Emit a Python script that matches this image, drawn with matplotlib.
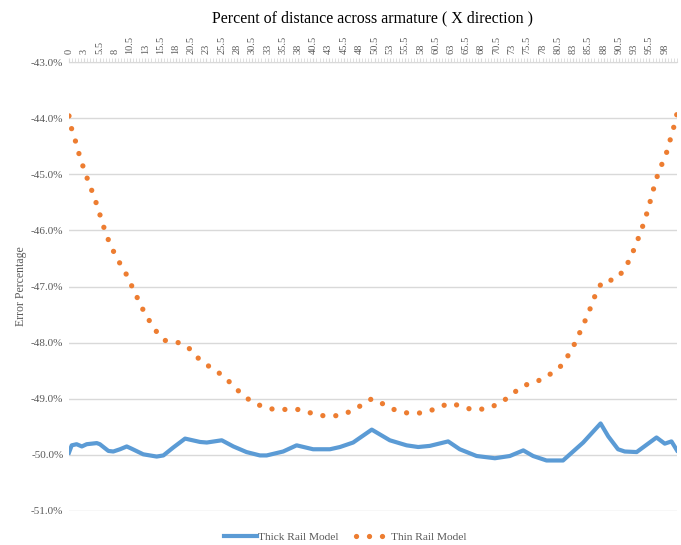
import numpy as np
import matplotlib.pyplot as plt
from matplotlib.ticker import FuncFormatter

# category labels: percent of distance across armature
categories = ['0'] + ['%g' % (0.5 + 0.5 * k) for k in range(1, 200)]

# thick rail model (category index, error %)
thick_x = [0, 0.9, 2.5, 4.2, 5.8, 9.1, 10.1, 12.9, 14.5, 16.7, 18.9, 20.5, 24.3, 28.7,
           30.9, 34.1, 38.0, 42.9, 45.1, 50.0, 53.8, 58.1, 62.5, 64.7, 70.1, 74.5, 79.9,
           85.4, 88.7, 93.0, 99.1, 105.0, 110.5, 114.3, 118.1, 124.1, 127.9, 133.4, 139.4,
           144.3, 148.7, 151.9, 156.3, 161.7, 168.3, 174.0, 176.5, 179.7, 181.9, 185.8,
           192.3, 195.0, 197.2, 199]
thick_y = [-49.96, -49.83, -49.81, -49.85, -49.81, -49.79, -49.81, -49.93, -49.94, -49.90,
           -49.85, -49.89, -49.99, -50.03, -50.01, -49.87, -49.71, -49.77, -49.78, -49.74,
           -49.85, -49.95, -50.01, -50.01, -49.94, -49.83, -49.90, -49.90, -49.86, -49.78,
           -49.55, -49.74, -49.83, -49.86, -49.84, -49.76, -49.90, -50.02, -50.06, -50.02,
           -49.92, -50.02, -50.10, -50.10, -49.78, -49.44, -49.67, -49.90, -49.94, -49.95,
           -49.69, -49.80, -49.76, -49.92]

# thin rail model (category index, error %)
thin_x = [0, 0.9, 2.3, 3.5, 4.9, 6.4, 8.1, 9.5, 10.8, 12.2, 14.0, 15.9, 18.2, 20.2, 22.0,
          24.0, 26.2, 28.6, 31.3, 35.3, 38.8, 41.7, 44.9, 48.4, 51.6, 54.5, 57.6, 61.2,
          64.9, 68.8, 72.7, 76.5, 80.4, 84.3, 88.1, 92.0, 95.6, 99.1, 102.7, 106.3, 110.2,
          114.1, 118.0, 121.8, 125.4, 129.3, 133.1, 137.0, 140.7, 144.2, 147.5, 150.9,
          154.7, 158.1, 161.4, 163.7, 165.8, 167.6, 169.5, 171.2, 172.8, 174.8, 178.7,
          181.5, 183.5, 185.3, 186.9, 188.4, 189.7, 190.9, 192.1, 193.6, 195.4, 196.6,
          197.9, 199]
thin_y = [-43.96, -44.20, -44.44, -44.68, -44.91, -45.14, -45.38, -45.61, -45.84, -46.08,
          -46.31, -46.52, -46.72, -46.95, -47.16, -47.39, -47.60, -47.80, -47.96, -47.99,
          -48.07, -48.25, -48.39, -48.51, -48.65, -48.81, -48.97, -49.09, -49.17, -49.20,
          -49.18, -49.20, -49.28, -49.31, -49.30, -49.23, -49.12, -49.00, -49.09, -49.19,
          -49.25, -49.26, -49.22, -49.13, -49.08, -49.16, -49.20, -49.17, -49.09, -48.96,
          -48.81, -48.72, -48.66, -48.54, -48.40, -48.20, -47.99, -47.77, -47.54, -47.31,
          -47.07, -46.90, -46.88, -46.72, -46.52, -46.29, -46.06, -45.83, -45.59, -45.35,
          -45.10, -44.88, -44.65, -44.42, -44.17, -43.92]

plt.rcParams['font.family'] = ['Liberation Serif', 'DejaVu Serif']
grey = '#595959'

fig = plt.figure(figsize=(6.81, 5.45), dpi=100)
ax = fig.add_axes([0.1013, 0.0624, 0.8928, 0.8238])

ax.plot(thick_x, thick_y, color='#5B9BD5', lw=3.0, solid_joinstyle='round',
        label='Thick Rail Model', zorder=3)
ax.plot(thin_x, thin_y, color='#ED7D31', lw=3.8, linestyle=(0, (0.01, 2.45)),
        dash_capstyle='round', label='Thin Rail Model', zorder=3)

ax.set_xlim(0, 199)
ax.set_ylim(-51, -43)
ax.set_yticks(np.arange(-51, -42.5, 1))
ax.yaxis.set_major_formatter(FuncFormatter(lambda v, p: '%.1f%%' % v))
ax.grid(axis='y', color='#D9D9D9', lw=1)
ax.set_axisbelow(True)

ax.xaxis.tick_top()
ax.xaxis.set_label_position('top')
ax.set_xticks(range(0, 200, 5))
ax.set_xticklabels(categories[::5], rotation=90)
ax.set_xticks(range(200), minor=True)
ax.tick_params(axis='x', which='both', direction='out', length=3, color='#D9D9D9',
               labelsize=7.5, labelcolor=grey, pad=3)
ax.tick_params(axis='y', length=0, labelsize=8, labelcolor=grey, pad=4)

for s in ['left', 'right', 'bottom']:
    ax.spines[s].set_visible(False)
ax.spines['top'].set_color('#D9D9D9')

ax.set_xlabel('Percent of distance across armature ( X direction )', fontsize=11.5, labelpad=9)
ax.set_ylabel('Error Percentage', fontsize=8.5, color=grey, labelpad=3)

ax.legend(loc='upper center', bbox_to_anchor=(0.454, -0.025), ncol=2, frameon=False,
          fontsize=8.2, labelcolor=grey, handlelength=2.9, columnspacing=1.5,
          handletextpad=0.15)

fig.savefig('out.png', dpi=100)
